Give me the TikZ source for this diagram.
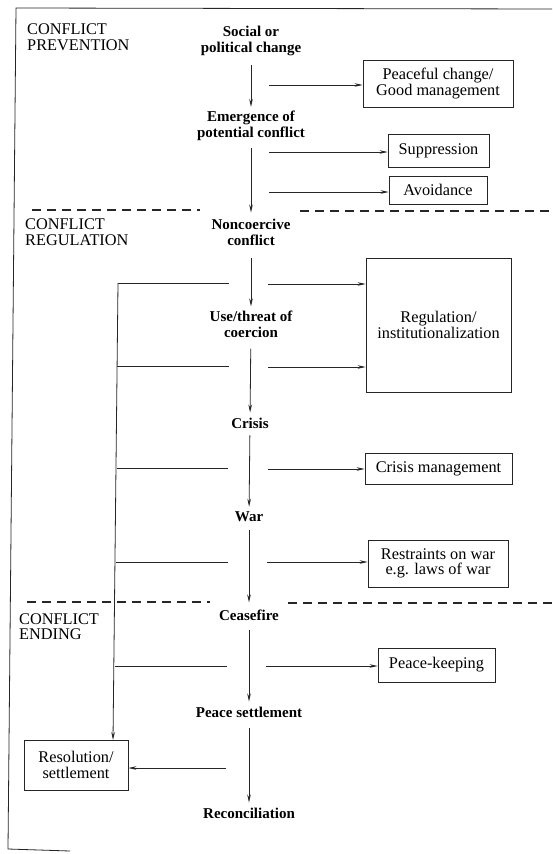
\documentclass[tikz,border=0pt]{standalone}
\usepackage{fontspec}
\setmainfont{Liberation Serif}
\usetikzlibrary{arrows.meta}
\tikzset{
  line/.style={line width=0.8pt, draw=black!85},
  arr/.style={line, -{Stealth[length=8pt,width=3.6pt]}},
  stage/.style={font=\fontsize{15}{16}\selectfont\bfseries, align=center, inner sep=0pt},
  outcome/.style={draw=black!85, line width=0.8pt, font=\fontsize{16.3}{15.7}\selectfont, align=center, inner sep=0pt},
  phase/.style={font=\fontsize{16.3}{15.7}\selectfont, align=left, anchor=north west, inner sep=0pt},
  divider/.style={line width=1.3pt, dash pattern=on 9pt off 6pt, draw=black!85}
}
\begin{document}
\begin{tikzpicture}[x=1pt,y=-1pt]
\useasboundingbox (0,0) rectangle (552,854);
% frame
\draw[line] (552,9) -- (16,8) -- (8,849) -- (70,851);
% phase labels
\node[phase] (p1) at (27,24) {CONFLICT\\PREVENTION};
\node[phase] (p2) at (25,219) {CONFLICT\\REGULATION};
\node[phase] (p3) at (19,613) {CONFLICT\\ENDING};
% dividers
\coordinate (d1a) at (32,210); \coordinate (d1b) at (200,210);
\coordinate (d1c) at (300,211); \coordinate (d1d) at (552,211);
\coordinate (d2a) at (27,602); \coordinate (d2b) at (210,602);
\coordinate (d2c) at (288,603); \coordinate (d2d) at (552,603);
\draw[divider] (d1a) -- (d1b);
\draw[divider] (d1c) -- (d1d);
\draw[divider] (d2a) -- (d2b);
\draw[divider] (d2c) -- (d2d);
% main stages
\node[stage] (s1) at (251,41) {Social or\\political change};
\node[stage] (s2) at (251,126) {Emergence of\\potential conflict};
\node[stage] (s3) at (251,232) {Noncoercive\\conflict};
\node[stage] (s4) at (251,324) {Use/threat of\\coercion};
\node[stage] (s5) at (250,423) {Crisis};
\node[stage] (s6) at (249,517) {War};
\node[stage] (s7) at (249,615) {Ceasefire};
\node[stage] (s8) at (249,712) {Peace settlement};
\node[stage] (s9) at (249,813) {Reconciliation};
\draw[arr, shorten <=9pt, shorten >=4pt] (s1) -- (s2);
\draw[arr, shorten <=7pt, shorten >=6pt] (s2) -- (s3);
\draw[arr, shorten <=13pt, shorten >=4pt] (s3) -- (s4);
\draw[arr, shorten <=11pt, shorten >=5pt] (s4) -- (s5);
\draw[arr, shorten <=7pt, shorten >=5pt] (s5) -- (s6);
\draw[arr, shorten <=8pt, shorten >=7pt] (s6) -- (s7);
\draw[arr, shorten <=9pt, shorten >=5pt] (s7) -- (s8);
\draw[arr, shorten <=11pt, shorten >=5pt] (s8) -- (s9);
% outcome boxes
\node[outcome, minimum width=150pt, minimum height=47pt] (o1) at (438,83.5) {Peaceful change/\\Good management};
\node[outcome, minimum width=101pt, minimum height=33pt] (o2) at (438.5,150.5) {Suppression};
\node[outcome, minimum width=98pt, minimum height=28pt] (o3) at (438,190) {Avoidance};
\node[outcome, minimum width=145pt, minimum height=134pt] (o4) at (438.5,325) {Regulation/\\institutionalization};
\node[outcome, minimum width=147pt, minimum height=31pt] (o5) at (438.5,468.5) {Crisis management};
\node[outcome, minimum width=140pt, minimum height=47pt] (o6) at (438,563.5) {Restraints on war\\e.g. laws of war};
\node[outcome, minimum width=117pt, minimum height=34pt] (o7) at (436.5,665) {Peace-keeping};
\node[outcome, minimum width=104pt, minimum height=50pt] (o8) at (76,765) {Resolution/\\settlement};
% right branches
\coordinate (r1) at (269,85);
\coordinate (r2) at (269,152);
\coordinate (r3) at (269,192);
\coordinate (r4) at (268,284);
\coordinate (r5) at (268,367);
\coordinate (r6) at (268,469);
\coordinate (r7) at (267,562);
\coordinate (r8) at (266,666);
\draw[arr] (r1) -- (r1 -| o1.west);
\draw[arr] (r2) -- (r2 -| o2.west);
\draw[arr] (r3) -- (r3 -| o3.west);
\draw[arr] (r4) -- (r4 -| o4.west);
\draw[arr] (r5) -- (r5 -| o4.west);
\draw[arr] (r6) -- (r6 -| o5.west);
\draw[arr] (r7) -- (r7 -| o6.west);
\draw[arr] (r8) -- (r8 -| o7.west);
% left branches
\coordinate (l1) at (229,283); \coordinate (v1) at (118,283);
\coordinate (l2) at (229,366); \coordinate (v2) at (117,366);
\coordinate (l3) at (228,468); \coordinate (v3) at (117,468);
\coordinate (l4) at (228,562); \coordinate (v4) at (116,562);
\coordinate (l5) at (227,666); \coordinate (v5) at (115,666);
\coordinate (vb) at (113,740);
\draw[line] (l1) -- (v1);
\draw[line] (l2) -- (v2);
\draw[line] (l3) -- (v3);
\draw[line] (l4) -- (v4);
\draw[line] (l5) -- (v5);
\draw[arr] (v1) -- (vb);
\coordinate (l6) at (226,768);
\draw[arr] (l6) -- (l6 -| o8.east);
\end{tikzpicture}
\end{document}
